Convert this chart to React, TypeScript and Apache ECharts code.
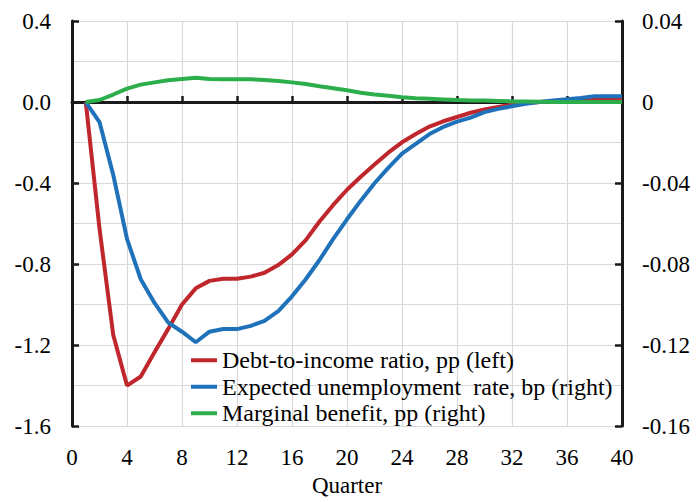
import React, { useEffect, useRef } from "react";
import * as echarts from "echarts";

const quarters = [1, 2, 3, 4, 5, 6, 7, 8, 9, 10, 11, 12, 13, 14, 15, 16, 17, 18, 19, 20, 21, 22, 23, 24, 25, 26, 27, 28, 29, 30, 31, 32, 33, 34, 35, 36, 37, 38, 39, 40];

const debtToIncome = [0, -0.625, -1.15, -1.4, -1.355, -1.235, -1.12, -1.0, -0.92, -0.883, -0.873, -0.873, -0.862, -0.843, -0.805, -0.752, -0.682, -0.59, -0.508, -0.433, -0.369, -0.309, -0.25, -0.199, -0.158, -0.121, -0.095, -0.074, -0.053, -0.037, -0.024, -0.013, -0.005, 0, 0.003, 0.006, 0.009, 0.011, 0.012, 0.012];

const expectedUnemployment = [0, -0.0099, -0.036, -0.0676, -0.0875, -0.0992, -0.1089, -0.1134, -0.1186, -0.1134, -0.1121, -0.1121, -0.1105, -0.108, -0.1032, -0.0959, -0.0875, -0.078, -0.0676, -0.0579, -0.0487, -0.0401, -0.0325, -0.0255, -0.0207, -0.0158, -0.0123, -0.0097, -0.0077, -0.005, -0.0034, -0.0021, -0.0009, 0, 0.0007, 0.0014, 0.002, 0.0028, 0.0028, 0.0028];

const marginalBenefit = [0, 0.001, 0.0037, 0.0066, 0.0086, 0.0097, 0.0107, 0.0114, 0.012, 0.0114, 0.0112, 0.0112, 0.0112, 0.0109, 0.0104, 0.0097, 0.0089, 0.0078, 0.0068, 0.0058, 0.0046, 0.0037, 0.0031, 0.0024, 0.0019, 0.0016, 0.0013, 0.001, 0.0008, 0.0007, 0.0005, 0.0003, 0.0002, 0.0001, 0, 0, 0, 0, 0, 0];

const seriesNames = [
  "Debt-to-income ratio, pp (left)",
  "Expected unemployment  rate, bp (right)",
  "Marginal benefit, pp (right)",
];
const seriesColors = ["#C0272D", "#1F72BA", "#2DAE4D"];

const FONT = "Liberation Serif";

const pairs = (vals: number[]) => quarters.map((q, i) => [q, vals[i]]);

export default function App() {
  const ref = useRef<HTMLDivElement>(null);
  useEffect(() => {
    if (!ref.current) return;
    const chart = echarts.init(ref.current, null, { renderer: "svg" });
    const axisColor = "#1a1a1a";
    const gridColor = "#d9d9d9";
    chart.setOption({
      animation: false,
      backgroundColor: "#ffffff",
      textStyle: { fontFamily: FONT },
      grid: { left: 72, right: 74, top: 21, bottom: 69, containLabel: false },
      legend: {
        orient: "vertical",
        left: 186,
        top: 343,
        itemGap: 2,
        icon: "rect",
        itemWidth: 26,
        itemHeight: 4,
        textStyle: { fontFamily: FONT, fontSize: 24, color: "#000", lineHeight: 24.5 },
        data: seriesNames,
      },
      xAxis: [
        {
          type: "value",
          min: 0,
          max: 40,
          interval: 4,
          position: "bottom",
          name: "Quarter",
          nameLocation: "middle",
          nameGap: 46,
          nameTextStyle: { fontFamily: FONT, fontSize: 23, color: "#000" },
          axisLine: { show: false, onZero: false },
          axisTick: { show: false },
          axisLabel: { fontFamily: FONT, fontSize: 23, color: "#000", margin: 20 },
          splitLine: { show: true, lineStyle: { color: gridColor, width: 1.2 } },
        },
        {
          type: "value",
          min: 0,
          max: 40,
          interval: 4,
          position: "top",
          axisLine: { show: true, onZero: true, onZeroAxisIndex: 0, lineStyle: { color: axisColor, width: 3 } },
          axisTick: { show: true, length: 6, lineStyle: { color: axisColor, width: 2.5 } },
          axisLabel: { show: false },
          splitLine: { show: false },
        },
      ],
      yAxis: [
        {
          type: "value",
          min: -1.6,
          max: 0.4,
          interval: 0.4,
          position: "left",
          axisLine: { show: true, onZero: false, lineStyle: { color: axisColor, width: 3 } },
          axisTick: { show: true, inside: true, length: 7, lineStyle: { color: axisColor, width: 2.5 } },
          axisLabel: {
            fontFamily: FONT,
            fontSize: 23,
            color: "#000",
            margin: 21,
            formatter: (v: number) => v.toFixed(1),
          },
          splitLine: { show: true, lineStyle: { color: gridColor, width: 1.2 } },
          minorTick: { show: false, splitNumber: 2 },
          minorSplitLine: { show: true, lineStyle: { color: gridColor, width: 1.2 } },
        },
        {
          type: "value",
          min: -0.16,
          max: 0.04,
          interval: 0.04,
          position: "right",
          axisLine: { show: true, onZero: false, lineStyle: { color: axisColor, width: 3 } },
          axisTick: { show: true, inside: true, length: 7, lineStyle: { color: axisColor, width: 2.5 } },
          axisLabel: {
            fontFamily: FONT,
            fontSize: 23,
            color: "#000",
            margin: 20,
            formatter: (v: number) => (Math.abs(v) < 1e-9 ? "0" : v.toFixed(2)),
          },
          splitLine: { show: false },
        },
      ],
      series: [
        {
          name: seriesNames[0],
          type: "line",
          xAxisIndex: 0,
          yAxisIndex: 0,
          data: pairs(debtToIncome),
          showSymbol: false,
          lineStyle: { width: 4, color: seriesColors[0] },
          itemStyle: { color: seriesColors[0] },
        },
        {
          name: seriesNames[1],
          type: "line",
          xAxisIndex: 0,
          yAxisIndex: 1,
          data: pairs(expectedUnemployment),
          showSymbol: false,
          lineStyle: { width: 4, color: seriesColors[1] },
          itemStyle: { color: seriesColors[1] },
        },
        {
          name: seriesNames[2],
          type: "line",
          xAxisIndex: 0,
          yAxisIndex: 1,
          data: pairs(marginalBenefit),
          showSymbol: false,
          lineStyle: { width: 4, color: seriesColors[2] },
          itemStyle: { color: seriesColors[2] },
        },
      ],
    });
    const onResize = () => chart.resize();
    window.addEventListener("resize", onResize);
    return () => {
      window.removeEventListener("resize", onResize);
      chart.dispose();
    };
  }, []);
  return (
    <div
      ref={ref}
      style={{ position: "fixed", left: 0, top: 0, width: "100vw", height: "100vh", background: "#fff" }}
    />
  );
}
